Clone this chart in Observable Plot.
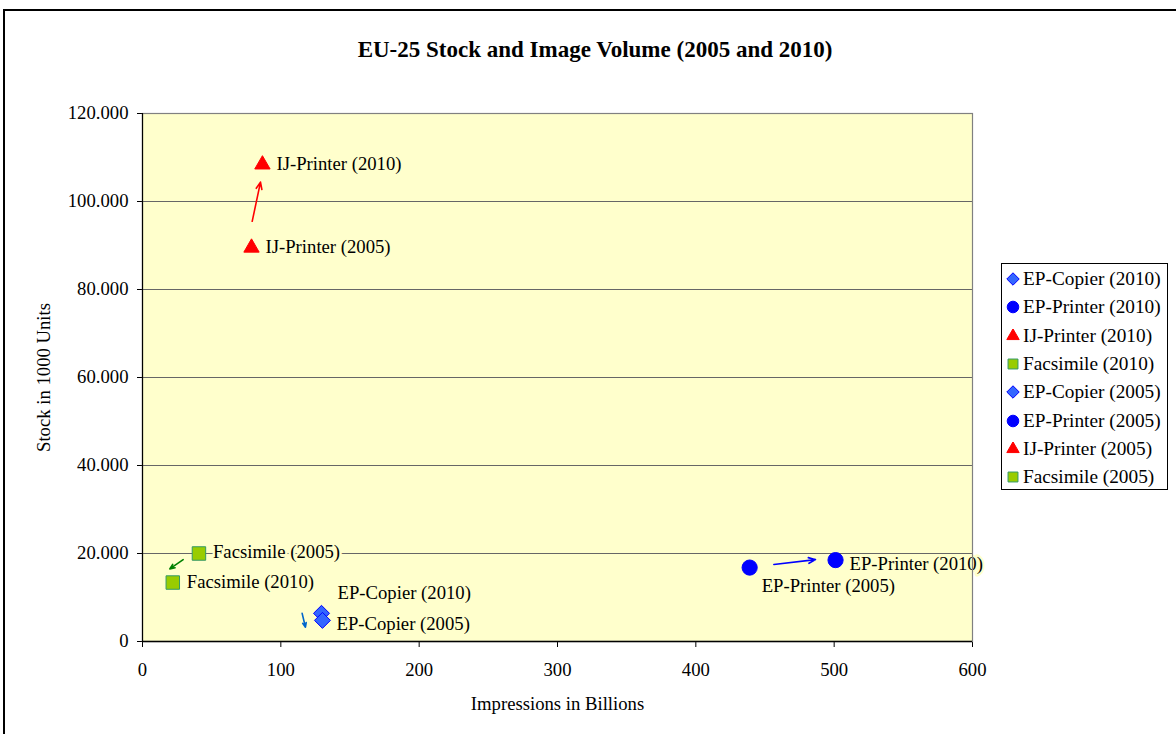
<!DOCTYPE html>
<html>
<head>
<meta charset="utf-8">
<script src="https://cdn.jsdelivr.net/npm/d3@7"></script>
<script src="https://cdn.jsdelivr.net/npm/@observablehq/plot@0.6"></script>
<style>
  html, body { margin: 0; padding: 0; background: #fff; overflow: hidden; }
  #wrap { position: relative; width: 1176px; height: 734px; overflow: hidden; font-family: "Liberation Serif", "Times New Roman", serif; }
  #border { position: absolute; left: 3px; top: 9px; width: 1250px; height: 800px; border: 2px solid #000; box-sizing: border-box; }
  #title { position: absolute; left: 0; top: 36px; width: 1190px; text-align: center; font-size: 23px; font-weight: bold; line-height: 28px; color: #000; }
  #chart { position: absolute; left: 0; top: 0; }
  #legend { position: absolute; left: 1001px; top: 263px; width: 167px; height: 227px; border: 1px solid #000; box-sizing: border-box; background: #fff; padding-top: 1px; }
  .item { height: 28.3px; display: flex; align-items: center; font-size: 19.3px; color: #000; white-space: nowrap; }
  .item svg { margin-left: 4px; margin-right: 3px; }
</style>
</head>
<body>
<div id="wrap">
  <div id="border"></div>
  <div id="chart"></div>
  <div id="title"></div>
  <div id="legend"></div>
</div>
<script>
// ---- data ----
const chartTitle = "EU-25 Stock and Image Volume (2005 and 2010)";
const xLabel = "Impressions in Billions";
const yLabel = "Stock in 1000 Units";

const seriesNames = ["EP-Copier (2010)", "EP-Printer (2010)", "IJ-Printer (2010)", "Facsimile (2010)",
                     "EP-Copier (2005)", "EP-Printer (2005)", "IJ-Printer (2005)", "Facsimile (2005)"];
const seriesDevice = ["EP-Copier", "EP-Printer", "IJ-Printer", "Facsimile",
                      "EP-Copier", "EP-Printer", "IJ-Printer", "Facsimile"];
const impressions = [129.4, 501, 86.7, 21.9, 130.1, 438.9, 78.8, 40.8];   // billions
const stock = [6400, 18500, 108400, 13400, 4800, 16800, 89500, 20000];     // 1000 units
const labelPlacement = ["above", "rightLow", "right", "right", "rightLow", "below", "right", "right"];

const arrowDevice = ["IJ-Printer", "Facsimile", "EP-Copier", "EP-Printer"];
const arrowFromX = [79.3, 29.4, 115.4, 456.4];
const arrowFromY = [95500, 18600, 6400, 17500];
const arrowToX = [85.3, 19.7, 117.8, 486.5];
const arrowToY = [104400, 16500, 3250, 18600];

const xTicks = [0, 100, 200, 300, 400, 500, 600];
const yTicks = [0, 20000, 40000, 60000, 80000, 100000, 120000];

// ---- styles ----
const deviceStyle = {
  "EP-Copier":  {symbol: "diamond2", fill: "#3366FF", stroke: "#0000FF", r: 7.2, legendR: 5.6, arrow: "#0066CC"},
  "EP-Printer": {symbol: "circle",   fill: "#0000FF", stroke: "#0000FF", r: 7.6, legendR: 5.8, arrow: "#0000FF"},
  "IJ-Printer": {symbol: "triangle", fill: "#FF0000", stroke: "#FF0000", r: 5.7, legendR: 4.6, arrow: "#FF0000"},
  "Facsimile":  {symbol: "square",   fill: "#99CC00", stroke: "#339966", r: 7.6, legendR: 5.6, arrow: "#008000"}
};
const placementOffset = {
  right:    {dx: 14, dy: -1},
  rightLow: {dx: 14, dy: 4},
  above:    {dx: 16, dy: -20},
  below:    {dx: 12, dy: 18}
};
const fs = 18.7;

const points = seriesNames.map((name, i) => ({
  name, device: seriesDevice[i], x: impressions[i], y: stock[i], place: labelPlacement[i]
}));
const arrows = arrowDevice.map((device, i) => ({
  device, x1: arrowFromX[i], y1: arrowFromY[i], x2: arrowToX[i], y2: arrowToY[i]
}));

const fmt = d3.formatLocale({decimal: ",", thousands: ".", grouping: [3], currency: ["", ""]}).format(",d");
const font = "'Liberation Serif', 'Times New Roman', serif";

const marks = [
  Plot.frame({fill: "#FFFFCC", stroke: null}),
  Plot.gridY(yTicks.filter(d => d > 0 && d < 120000), {stroke: "#666", strokeOpacity: 1, strokeWidth: 1}),
  Plot.axisY({ticks: yTicks, tickFormat: fmt, tickSize: 5, tickPadding: 9, fontSize: fs,
              label: yLabel, labelAnchor: "center", labelOffset: 106, labelArrow: "none"}),
  Plot.axisX({ticks: xTicks, tickFormat: d => String(d), tickSize: 6, tickPadding: 15, fontSize: fs,
              label: xLabel, labelAnchor: "center", labelOffset: 68, labelArrow: "none"}),
  Plot.arrow(arrows, {x1: "x1", y1: "y1", x2: "x2", y2: "y2",
                      stroke: d => deviceStyle[d.device].arrow, strokeWidth: 1.6, headLength: 7, headAngle: 45})
];

for (const place of Object.keys(placementOffset)) {
  marks.push(Plot.text(points.filter(d => d.place === place), {
    x: "x", y: "y", text: "name", textAnchor: "start",
    dx: placementOffset[place].dx, dy: placementOffset[place].dy,
    fill: "#000", stroke: "#FFFFCC", strokeWidth: 5, fontSize: fs
  }));
}
// frame border on top so it crosses labels like the reference
marks.push(Plot.frame({fill: null, stroke: "#808080", strokeWidth: 1.2}));
marks.push(Plot.ruleX([0], {stroke: "#000", strokeWidth: 1.2}));
marks.push(Plot.ruleY([0], {stroke: "#000", strokeWidth: 1.5}));

for (const device of Object.keys(deviceStyle)) {
  const s = deviceStyle[device];
  marks.push(Plot.dot(points.filter(d => d.device === device), {
    x: "x", y: "y", symbol: s.symbol, fill: s.fill, stroke: s.stroke, strokeWidth: 1, r: s.r
  }));
}

const chart = Plot.plot({
  width: 1176, height: 734,
  marginLeft: 142, marginRight: 204, marginTop: 113, marginBottom: 93,
  x: {domain: [0, 600]},
  y: {domain: [0, 120000]},
  style: {fontFamily: font, fontSize: fs + "px", background: "transparent", color: "#000"},
  marks
});
document.getElementById("chart").appendChild(chart);
document.getElementById("title").textContent = chartTitle;

// legend
const legend = document.getElementById("legend");
const symbolMap = {diamond2: d3.symbolDiamond2, circle: d3.symbolCircle, triangle: d3.symbolTriangle, square: d3.symbolSquare};
seriesNames.forEach((name, i) => {
  const s = deviceStyle[seriesDevice[i]];
  const item = document.createElement("div");
  item.className = "item";
  const svg = d3.create("svg").attr("width", 14).attr("height", 14);
  svg.append("path")
    .attr("transform", "translate(7,7)")
    .attr("d", d3.symbol(symbolMap[s.symbol], Math.PI * s.legendR * s.legendR)())
    .attr("fill", s.fill).attr("stroke", s.stroke).attr("stroke-width", 1);
  item.appendChild(svg.node());
  const span = document.createElement("span");
  span.textContent = name;
  item.appendChild(span);
  legend.appendChild(item);
});
</script>
</body>
</html>
